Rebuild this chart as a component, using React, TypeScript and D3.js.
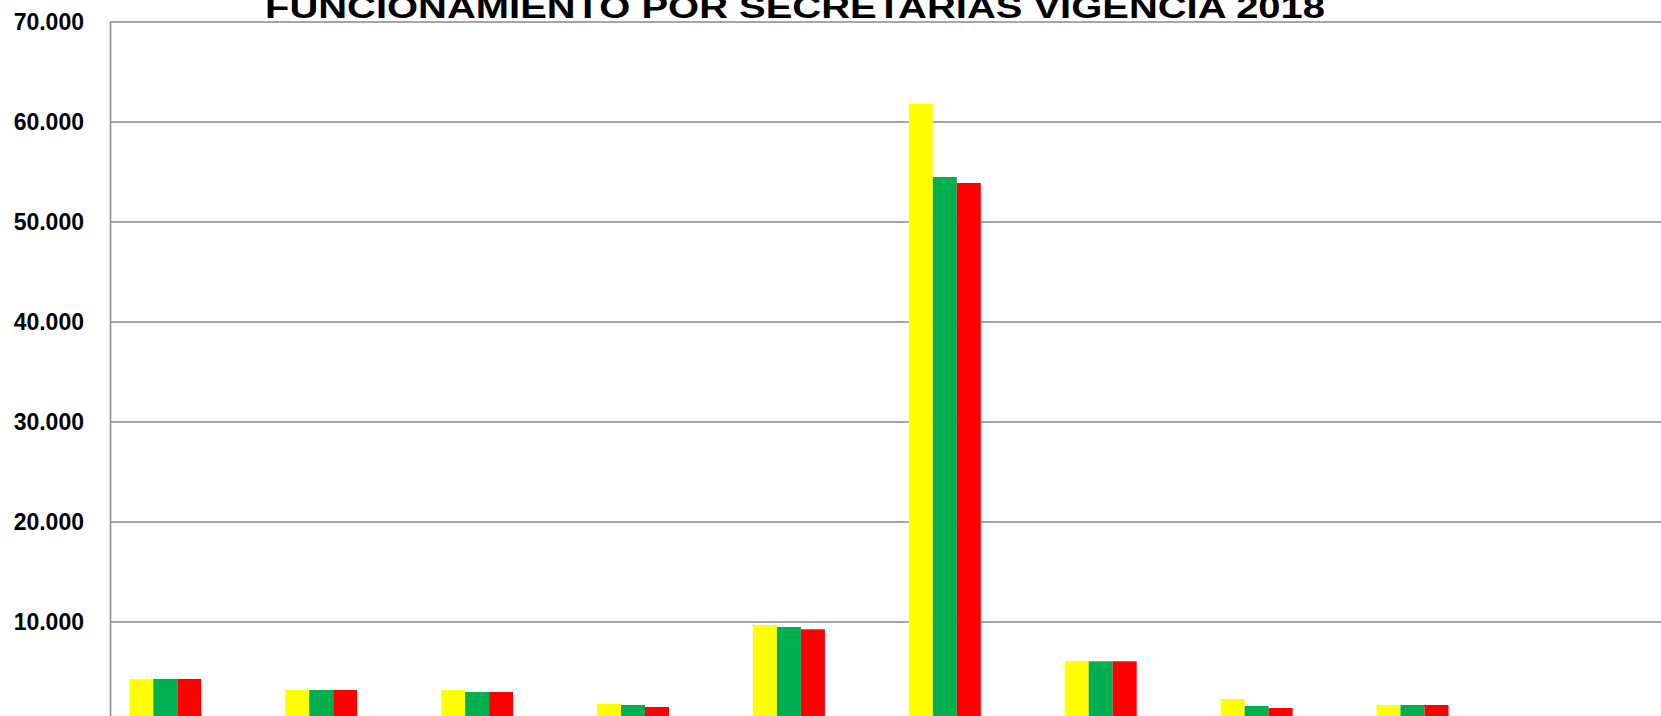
import React from "react";
import * as d3 from "d3";

const categories = ["S1", "S2", "S3", "S4", "S5", "S6", "S7", "S8", "S9"];
const seriesNames = ["Apropiación", "Compromisos", "Pagos"];
const seriesColors = ["#FFFF00", "#00B050", "#FF0000"];
const apropiacion = [4300, 3200, 3200, 1800, 9700, 61800, 6100, 2300, 1700];
const compromisos = [4300, 3200, 3000, 1700, 9500, 54500, 6070, 1600, 1700];
const pagos = [4300, 3200, 3000, 1500, 9270, 53900, 6070, 1400, 1700];
const tickValues = [10000, 20000, 30000, 40000, 50000, 60000, 70000];
const title = "FUNCIONAMIENTO POR SECRETARIAS VIGENCIA 2018";

const W = 1661;
const H = 716;
const plotLeft = 110.5;
const plotTop = 22;
const zeroY = 722;
const step = 155.9;
const groupW = 72;
const firstGroup = 129.3;

export default function App() {
  const values = [apropiacion, compromisos, pagos];
  const y = d3.scaleLinear().domain([0, 70000]).range([zeroY, plotTop]);
  const r0 = firstGroup - (step - groupW) / 2;
  const x0 = d3
    .scaleBand<string>()
    .domain(categories)
    .range([r0, r0 + step * categories.length])
    .paddingInner(0)
    .paddingOuter(0);
  const x1 = d3.scaleBand<string>().domain(seriesNames).range([0, groupW]);
  const fmt = (v: number) => d3.format(",")(v).replace(/,/g, ".");

  return (
    <svg
      width={W}
      height={H}
      style={{ position: "fixed", top: 0, left: 0, display: "block", background: "#fff" }}
      fontFamily="'Liberation Sans', Arial, sans-serif"
    >
      <rect x={0} y={0} width={W} height={H} fill="#fff" />
      {tickValues.map((t) => (
        <line
          key={"g" + t}
          x1={plotLeft}
          x2={W}
          y1={y(t)}
          y2={y(t)}
          stroke="#888888"
          strokeWidth={1.5}
        />
      ))}
      <line x1={plotLeft} x2={plotLeft} y1={plotTop} y2={H} stroke="#888888" strokeWidth={1.5} />
      {tickValues.map((t) => (
        <text
          key={"t" + t}
          x={84}
          y={y(t)}
          dy="0.35em"
          textAnchor="end"
          fontSize={23}
          fontWeight="bold"
          fill="#000"
        >
          {fmt(t)}
        </text>
      ))}
      {categories.map((c, i) => (
        <g key={c} transform={`translate(${x0(c)! + (step - groupW) / 2},0)`}>
          {seriesNames.map((s, j) => {
            const v = values[j][i];
            return (
              <rect
                key={s}
                x={x1(s)!}
                y={y(v)}
                width={x1.bandwidth()}
                height={zeroY - y(v)}
                fill={seriesColors[j]}
              />
            );
          })}
        </g>
      ))}
      <text
        x={795}
        y={17.5}
        textAnchor="middle"
        fontSize={31}
        fontWeight="bold"
        textLength={1060}
        lengthAdjust="spacingAndGlyphs"
        fill="#000"
      >
        {title}
      </text>
    </svg>
  );
}
